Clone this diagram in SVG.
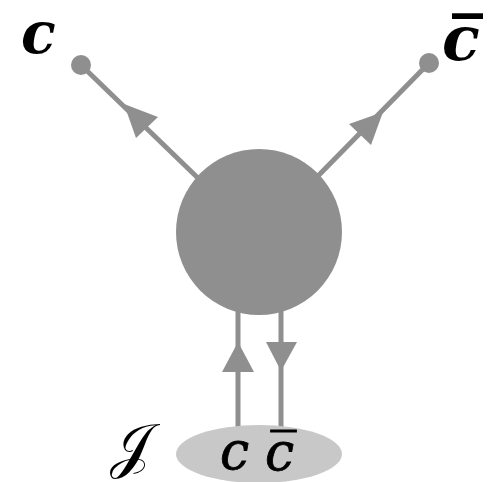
<svg xmlns="http://www.w3.org/2000/svg" width="493" height="482" viewBox="0 0 493 482">
<style>
.ln{stroke:#8f8f8f;stroke-width:5;fill:none}
.fg{fill:#8f8f8f}
.lbl{font-family:'DejaVu Serif',serif;font-style:italic;fill:#000}
.thk{stroke:#000;stroke-width:0.8}
</style>
<rect width="493" height="482" fill="#fff"/>
<g id="connectors">
<line class="ln" x1="81" y1="65" x2="200" y2="180"/>
<polygon class="fg" points="124,104 158,117 136,138"/>
<line class="ln" x1="429" y1="63" x2="316" y2="178"/>
<polygon class="fg" points="383,112 349,124 371,145"/>
<line class="ln" x1="238" y1="305" x2="238" y2="430"/>
<polygon class="fg" points="238,342 222,372 254,372"/>
<line class="ln" x1="281" y1="305" x2="281" y2="430"/>
<polygon class="fg" points="281,371 266,342 297,342"/>
</g>
<g id="source">
<ellipse cx="259" cy="454" rx="83" ry="29" fill="#c8c8c8"/>
<text class="lbl thk" x="220" y="469" font-size="52">c</text>
<text class="lbl thk" x="265" y="470" font-size="52">c̅</text>
<text x="110" y="466" font-size="60" font-family="'DejaVu Sans',serif">𝒥</text>
</g>
<g id="blob">
<circle class="fg" cx="259" cy="232" r="83"/>
</g>
<g id="leg-c">
<circle class="fg" cx="81" cy="65" r="10"/>
<text class="lbl" x="21" y="53" font-size="57" font-weight="bold">c</text>
</g>
<g id="leg-cbar">
<circle class="fg" cx="429" cy="63" r="10"/>
<text class="lbl" x="442" y="60" font-size="62" font-weight="bold">c̅</text>
</g>
</svg>
